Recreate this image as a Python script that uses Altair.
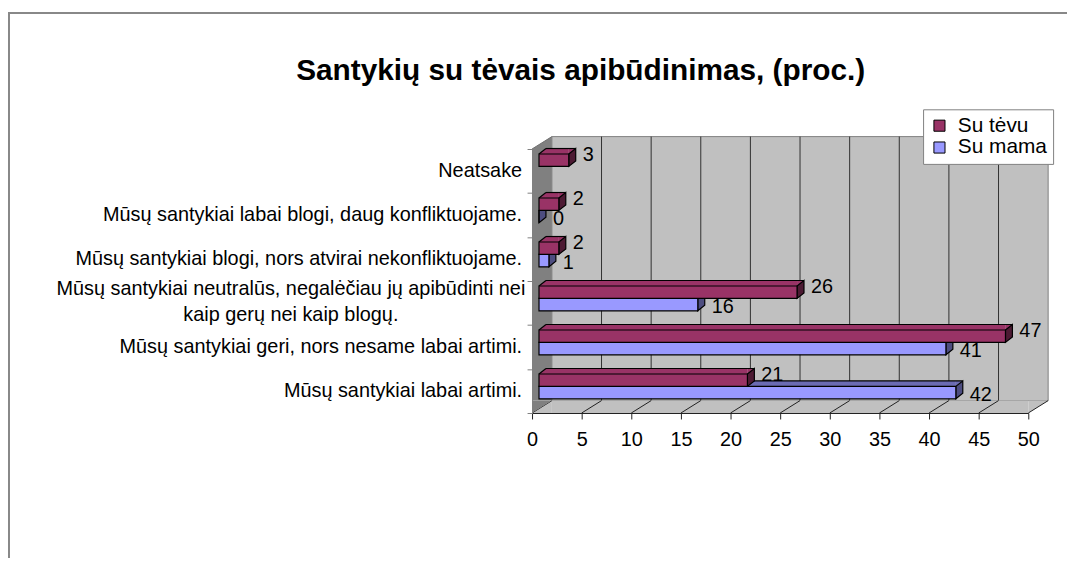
import altair as alt
import pandas as pd

# ---------------- data ----------------
categories = [
    "Mūsų santykiai labai artimi.",
    "Mūsų santykiai geri, nors nesame labai artimi.",
    "Mūsų santykiai neutralūs, negalėčiau jų apibūdinti nei kaip gerų nei kaip blogų.",
    "Mūsų santykiai blogi, nors atvirai nekonfliktuojame.",
    "Mūsų santykiai labai blogi, daug konfliktuojame.",
    "Neatsake",
]
label_lines = [
    ["Mūsų santykiai labai artimi."],
    ["Mūsų santykiai geri, nors nesame labai artimi."],
    ["Mūsų santykiai neutralūs, negalėčiau jų apibūdinti nei", "kaip gerų nei kaip blogų."],
    ["Mūsų santykiai blogi, nors atvirai nekonfliktuojame."],
    ["Mūsų santykiai labai blogi, daug konfliktuojame."],
    ["Neatsake"],
]
su_tevu = [21, 47, 26, 2, 2, 3]
su_mama = [42, 41, 16, 1, 0, None]
series = ["Su tėvu", "Su mama"]
x_ticks = [0, 5, 10, 15, 20, 25, 30, 35, 40, 45, 50]
title_text = "Santykių su tėvais apibūdinimas, (proc.)"

# ---------------- layout constants ----------------
W, H = 500, 266
PAD_L, PAD_T, PAD_R, PAD_B = 528, 140, 39, 144
N = len(categories)
PX_X = W / 50
PX_Y = H / N
D_PX, E_PX = 7.0, 5.5          # bar depth (px)
WX_PX, WY_PX = 20.0, 12.5      # wall depth (px)
BAR_PX = 12.5                  # bar thickness (px)
T_TOP_PX = 5.0                 # gap from band top to first bar (px)
X0 = 0.7                       # front-face base shift (x units)
D, E = D_PX / PX_X, E_PX / PX_Y
WX, WY = WX_PX / PX_X, WY_PX / PX_Y
T_TOP = T_TOP_PX / PX_Y
T_BOT = (T_TOP_PX + BAR_PX) / PX_Y
M_BOT = (T_TOP_PX + 2 * BAR_PX) / PX_Y
FONT = "Liberation Sans"
FS = 20

C_TEVU, C_TEVU_SIDE, C_TEVU_TOP = "#993366", "#4D1A33", "#993366"
C_MAMA, C_MAMA_SIDE, C_MAMA_TOP = "#9999FF", "#4D4D80", "#6B6BB3"
C_WALL, C_LWALL = "#C0C0C0", "#808080"

xs = alt.Scale(domain=[0, 50], nice=False, zero=False)
ys = alt.Scale(domain=[0, N], nice=False, zero=False)

x_axis = alt.Axis(values=x_ticks, title=None, grid=False, labelFontSize=FS, labelFont=FONT,
                  labelColor="black", tickSize=6, tickColor="#202020", domainColor="#202020",
                  labelPadding=11, zindex=1, labelFlush=False, labelOverlap=False)
y_axis = alt.Axis(values=list(range(N + 1)), title=None, grid=False, labels=False,
                  tickSize=5, tickColor="#808080", domainColor="#808080", zindex=1)


def X(f):
    return alt.X(f, type="quantitative", scale=xs, axis=x_axis)


def Y(f):
    return alt.Y(f, type="quantitative", scale=ys, axis=y_axis)


def path(*pts):
    return "M" + "L".join(f"{a:g},{b:g}" for a, b in pts) + "Z"


# symbol shapes (pixel offsets relative to the anchor point)
TRI_TOP_LEFT = path((0, 0), (D_PX, -E_PX), (D_PX, 0))
TRI_TOP_RIGHT = path((0, 0), (D_PX, -E_PX), (0, -E_PX))
SIDE = path((0, 0), (D_PX, -E_PX), (D_PX, BAR_PX - E_PX), (0, BAR_PX))
WALL_TOP = path((0, 0), (WX_PX, -WY_PX), (WX_PX, 0))
WALL_BOT = path((0, 0), (0, -WY_PX), (WX_PX, -WY_PX))
FLOOR_LEFT = path((0, 0), (WX_PX, 0), (WX_PX, -WY_PX))
FLOOR_RIGHT = path((0, 0), (WX_PX, -WY_PX), (0, -WY_PX))

# ---------------- geometry tables from data ----------------
fronts, top_rects, anchors, edges, vlabels = [], [], [], [], []
for i in range(N):
    for s, vals, top_off, bot_off, lab_dy in [
        ("Su mama", su_mama, T_BOT, M_BOT, -2 / PX_Y),
        ("Su tėvu", su_tevu, T_TOP, T_BOT, 5 / PX_Y),
    ]:
        v = vals[i]
        if v is None:
            continue
        ty = i + 1 - top_off
        by = i + 1 - bot_off
        bx0, bx1 = X0, X0 + v
        fronts.append({"series": s, "x": bx0, "x2": bx1, "y": by, "y2": ty})
        anchors.append({"series": s, "kind": "side", "x": bx1, "y": ty})
        if v > 0:
            top_rects.append({"series": s, "x": bx0 + D, "x2": bx1, "y": ty, "y2": ty + E})
            anchors.append({"series": s, "kind": "tl", "x": bx0, "y": ty})
            anchors.append({"series": s, "kind": "tr", "x": bx1, "y": ty})
            edges.append({"series": s, "x": bx0, "x2": bx0 + D, "y": ty, "y2": ty + E})
            edges.append({"series": s, "x": bx0 + D, "x2": bx1 + D, "y": ty + E, "y2": ty + E})
        vlabels.append({"series": s, "text": str(v), "x": bx1 + D + 0.7,
                        "y": (ty + by) / 2 + lab_dy})

fronts = pd.DataFrame(fronts)
top_rects = pd.DataFrame(top_rects)
anchors = pd.DataFrame(anchors)
edges = pd.DataFrame(edges)
vlabels = pd.DataFrame(vlabels)

back_wall = pd.DataFrame([{"x": WX, "x2": 50 + WX, "y": WY, "y2": N + WY}])
grid_back = pd.DataFrame([{"x": t + WX, "y": WY, "y2": N + WY} for t in x_ticks[1:-1]])
lwall_rect = pd.DataFrame([{"x": 0, "x2": WX, "y": WY, "y2": N}])
lwall_top = pd.DataFrame([{"x": 0, "y": N}])
lwall_bot = pd.DataFrame([{"x": 0, "y": 0}])
lwall_edge = pd.DataFrame([{"x": 0, "x2": WX, "y": N, "y2": N + WY}])
floor_rect = pd.DataFrame([{"x": WX, "x2": 50, "y": 0, "y2": WY}])
floor_left = pd.DataFrame([{"x": 0, "y": 0}])
floor_right = pd.DataFrame([{"x": 50, "y": 0}])
floor_lines = pd.DataFrame([{"x": t, "x2": t + WX, "y": 0, "y2": WY} for t in x_ticks])

single = pd.DataFrame([{"text": l[0], "y": i + 0.5} for i, l in enumerate(label_lines) if len(l) == 1])
multi = pd.DataFrame([{"text": l, "y": i + 0.5} for i, l in enumerate(label_lines) if len(l) > 1])
one = pd.DataFrame([{"text": title_text}])


def rect_layer(df, color, **kw):
    return alt.Chart(df).mark_rect(fill=color, **kw).encode(
        x=X("x"), x2="x2", y=Y("y"), y2="y2")


def sym_layer(df, shape, color, stroke=False):
    props = dict(shape=shape, size=4, filled=True, fill=color, opacity=1, fillOpacity=1)
    if stroke:
        props.update(stroke="black", strokeWidth=1.2, strokeOpacity=1)
    else:
        props.update(strokeWidth=0, strokeOpacity=0)
    return alt.Chart(df).mark_point(**props).encode(x=X("x"), y=Y("y"))


def edge_layer(df, color="black", width=1.2):
    return alt.Chart(df).mark_rule(color=color, strokeWidth=width).encode(
        x=X("x"), x2="x2", y=Y("y"), y2="y2")


# ---------------- layers ----------------
border = alt.Chart(one).mark_rect(fillOpacity=0, stroke="#888888", strokeWidth=2).encode(
    x=alt.value(-PAD_L + 1), x2=alt.value(900), y=alt.value(-PAD_T + 3), y2=alt.value(900))

layers = [
    border,
    rect_layer(back_wall, C_WALL, stroke="#808080", strokeWidth=1),
    alt.Chart(grid_back).mark_rule(color="#303030", strokeWidth=1).encode(
        x=X("x"), y=Y("y"), y2="y2"),
    rect_layer(floor_rect, C_WALL),
    sym_layer(floor_left, FLOOR_LEFT, C_WALL),
    sym_layer(floor_right, FLOOR_RIGHT, C_WALL),
    edge_layer(floor_lines, "#202020", 1),
    rect_layer(lwall_rect, C_LWALL),
    sym_layer(lwall_top, WALL_TOP, C_LWALL),
    sym_layer(lwall_bot, WALL_BOT, C_LWALL),
    edge_layer(lwall_edge, "#707070", 1),
]

for s, c_top, c_side in [("Su mama", C_MAMA_TOP, C_MAMA_SIDE), ("Su tėvu", C_TEVU_TOP, C_TEVU_SIDE)]:
    a = anchors[anchors.series == s]
    layers += [
        rect_layer(top_rects[top_rects.series == s], c_top),
        sym_layer(a[a.kind == "tl"], TRI_TOP_LEFT, c_top),
        sym_layer(a[a.kind == "tr"], TRI_TOP_RIGHT, c_top),
        edge_layer(edges[edges.series == s]),
        sym_layer(a[a.kind == "side"], SIDE, c_side, stroke=True),
    ]

front = alt.Chart(fronts).mark_rect(stroke="black", strokeWidth=1.2).encode(
    x=X("x"), x2="x2", y=Y("y"), y2="y2",
    color=alt.Color("series:N", scale=alt.Scale(domain=series, range=[C_TEVU, C_MAMA]),
                    legend=alt.Legend(orient="none", legendX=394, legendY=-40, title=None,
                                      fillColor="white", strokeColor="#808080", padding=6,
                                      symbolType="square", symbolSize=125,
                                      symbolStrokeColor="black", symbolStrokeWidth=1,
                                      labelFontSize=21, labelFont=FONT, labelColor="black",
                                      rowPadding=0, labelOffset=8)),
)

vals = alt.Chart(vlabels).mark_text(align="left", baseline="middle", fontSize=FS, font=FONT,
                                    color="black").encode(
    x=X("x"), y=Y("y"), text="text:N")

cat_single = alt.Chart(single).mark_text(align="right", baseline="middle", fontSize=FS,
                                         font=FONT, color="black").encode(
    x=alt.value(-10), y=Y("y"), text="text:N")

cat_multi = alt.Chart(multi).mark_text(align="center", baseline="middle", fontSize=FS,
                                       font=FONT, color="black", lineHeight=26, dy=-14).encode(
    x=alt.value(-243), y=Y("y"), text="text")

title = alt.Chart(one).mark_text(align="center", baseline="middle", fontSize=30, font=FONT,
                                 fontWeight="bold", color="black").encode(
    x=alt.value(49), y=alt.value(-79), text="text:N")

layers += [front, vals, cat_single, cat_multi, title]

chart = alt.layer(*layers).properties(
    width=W, height=H,
    autosize=alt.AutoSizeParams(type="none"),
    padding={"left": PAD_L, "top": PAD_T, "right": PAD_R, "bottom": PAD_B},
    background="white",
).configure_view(stroke=None)

chart.save("out.html", embed_options={"renderer": "svg", "actions": False})
